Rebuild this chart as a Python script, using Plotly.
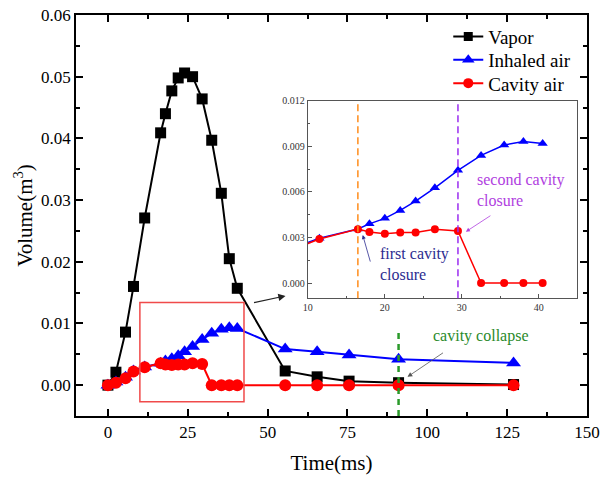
import plotly.graph_objects as go

# ---- data ----
time_ms = [0, 2.5, 5.5, 8, 11.5, 16.5, 18, 20, 22, 24, 26.5, 29.5, 32.5, 35.5, 38, 40.5,
           55.5, 65.5, 75.5, 91, 127]
vapor = [0, 0.0021, 0.0086, 0.0160, 0.0271, 0.0409, 0.0440, 0.0477, 0.0498, 0.0506, 0.0500,
         0.0464, 0.0397, 0.0311, 0.0205, 0.0157, 0.0023, 0.00135, 0.00065, 0.0004, 0.0001]
inhaled_air = [0, 0.0005, 0.0013, 0.0023, 0.00295, 0.00356, 0.0039, 0.00426, 0.00478, 0.0054,
               0.00627, 0.00742, 0.0084, 0.00908, 0.00932, 0.00919, 0.00585, 0.0054, 0.0049,
               0.0042, 0.0036]
cavity_air = [0, 0.0004, 0.0011, 0.0022, 0.0029, 0.00355, 0.00336, 0.00325, 0.00333, 0.00333,
              0.00355, 0.00343, 0, 0, 0, 0, 0, 0, 0, 0, 0]

series_names = ["Vapor", "Inhaled air", "Cavity air"]

# inset shows the samples from 8 ms to 40.5 ms
inset_t_span = [8, 40.5]

# reference lines / zoom window
first_closure_t = 16.5
second_closure_t = 29.5
collapse_t = 91
zoom_box_x = [10, 42.6]
zoom_box_y = [-0.0027, 0.0134]

main_x_range = [-10, 150]
main_y_range = [-0.005, 0.06]
inset_x_range = [10, 45]
inset_y_range = [-0.001, 0.012]

FONT = "Liberation Serif, Times New Roman, DejaVu Serif, serif"

inset_idx = [i for i, t in enumerate(time_ms) if inset_t_span[0] <= t <= inset_t_span[1]]
inset_t = [time_ms[i] for i in inset_idx]
inset_inhaled = [inhaled_air[i] for i in inset_idx]
inset_cavity = [cavity_air[i] for i in inset_idx]

fig = go.Figure()

# ---- main traces ----
fig.add_trace(go.Scatter(x=time_ms, y=vapor, name=series_names[0], mode="lines+markers",
                         showlegend=False, line=dict(color="black", width=2),
                         marker=dict(symbol="square", size=11, color="black")))
fig.add_trace(go.Scatter(x=time_ms, y=inhaled_air, name=series_names[1], mode="lines+markers",
                         showlegend=False, line=dict(color="#0000ff", width=2),
                         marker=dict(symbol="triangle-up", size=13, color="#0000ff")))
fig.add_trace(go.Scatter(x=time_ms, y=cavity_air, name=series_names[2], mode="lines+markers",
                         showlegend=False, line=dict(color="#ff0000", width=2),
                         marker=dict(symbol="circle", size=12, color="#ff0000")))

# legend entries, one small legend per row (reference rows are tightly spaced)
legend_ids = ["legend", "legend2", "legend3"]
for name, col, sym, sz, lid in zip(series_names, ["black", "#0000ff", "#ff0000"],
                                   ["square", "triangle-up", "circle"], [9, 11, 10], legend_ids):
    fig.add_trace(go.Scatter(x=[None], y=[None], name=name, mode="lines+markers",
                             legend=lid, line=dict(color=col, width=2),
                             marker=dict(symbol=sym, size=sz, color=col)))

# ---- inset traces ----
fig.add_trace(go.Scatter(x=inset_t, y=inset_inhaled, mode="lines+markers", showlegend=False,
                         xaxis="x2", yaxis="y2",
                         line=dict(color="#0000ff", width=1.5),
                         marker=dict(symbol="triangle-up", size=9, color="#0000ff")))
fig.add_trace(go.Scatter(x=inset_t, y=inset_cavity, mode="lines+markers", showlegend=False,
                         xaxis="x2", yaxis="y2",
                         line=dict(color="#ff0000", width=1.5),
                         marker=dict(symbol="circle", size=8, color="#ff0000")))

main_axis_common = dict(showline=True, linecolor="black", linewidth=1.5, mirror="ticks",
                        ticks="inside", ticklen=7, tickwidth=1.5, tickcolor="black",
                        showgrid=False, zeroline=False, automargin=False,
                        tickfont=dict(family=FONT, size=17, color="black"))

inset_axis_common = dict(showline=True, linecolor="#555", linewidth=1, mirror=True,
                         ticks="inside", ticklen=4, tickwidth=1, tickcolor="#555",
                         showgrid=False, zeroline=False, automargin=False,
                         tickfont=dict(family=FONT, size=10, color="#333"))

legend_common = dict(x=0.7285, xanchor="left", yanchor="middle", bgcolor="rgba(0,0,0,0)",
                     font=dict(family=FONT, size=19, color="black"))

fig.update_layout(
    width=601, height=479,
    margin=dict(l=76, r=14, t=15, b=63, autoexpand=False),
    plot_bgcolor="white", paper_bgcolor="white",
    font=dict(family=FONT, color="black"),
    xaxis=dict(range=main_x_range, dtick=25, tick0=0,
               minor=dict(dtick=12.5, ticks="inside", ticklen=4, tickcolor="black"),
               title=dict(text="Time(ms)", font=dict(family=FONT, size=21), standoff=14),
               **main_axis_common),
    yaxis=dict(range=main_y_range, dtick=0.01, tick0=0, tickformat=".2f",
               minor=dict(dtick=0.005, ticks="inside", ticklen=4, tickcolor="black"),
               title=dict(text="Volume(m<sup>3</sup>)", font=dict(family=FONT, size=21), standoff=3),
               **main_axis_common),
    xaxis2=dict(domain=[0.4537, 0.981], anchor="y2", range=inset_x_range, dtick=10, tick0=10,
                minor=dict(dtick=5, ticks="inside", ticklen=2, tickcolor="#555"),
                **inset_axis_common),
    yaxis2=dict(domain=[0.2935, 0.7863], anchor="x2", range=inset_y_range, dtick=0.003, tick0=0,
                tickformat=".3f",
                minor=dict(dtick=0.0015, ticks="inside", ticklen=2, tickcolor="#555"),
                **inset_axis_common),
    legend=dict(y=0.9459, **legend_common),
    legend2=dict(y=0.8878, **legend_common),
    legend3=dict(y=0.8297, **legend_common),
    showlegend=True,
)

# ---- shapes ----
fig.add_shape(type="rect", xref="x", yref="y", x0=zoom_box_x[0], x1=zoom_box_x[1],
              y0=zoom_box_y[0], y1=zoom_box_y[1], line=dict(color="#f04a4a", width=1.5))
fig.add_shape(type="line", xref="x", yref="y", x0=collapse_t, x1=collapse_t,
              y0=main_y_range[0], y1=0.0085,
              line=dict(color="#2a9a2a", width=2.5, dash="6px,5px"))
fig.add_shape(type="line", xref="x2", yref="y2 domain", x0=first_closure_t, x1=first_closure_t,
              y0=0, y1=1, line=dict(color="#ff8c1a", width=1.5, dash="7px,4px"))
fig.add_shape(type="line", xref="x2", yref="y2 domain", x0=second_closure_t, x1=second_closure_t,
              y0=0, y1=1, line=dict(color="#9a2cf0", width=1.5, dash="7px,4px"))

# ---- annotations ----
fig.add_annotation(x=55.6, y=0.01447, xref="x", yref="y", text="", showarrow=True,
                   ax=-33, ay=7, arrowhead=2, arrowsize=1.2, arrowwidth=1.2, arrowcolor="#222")
fig.add_annotation(x=116.9, y=0.0080, xref="x", yref="y", text="cavity collapse",
                   showarrow=False, font=dict(family=FONT, size=16, color="#2a8a2a"))
fig.add_annotation(x=93.8, y=0.00135, xref="x", yref="y", text="", showarrow=True,
                   ax=37, ay=-25, arrowhead=2, arrowsize=1.2, arrowwidth=0.8, arrowcolor="#555")
fig.add_annotation(x=19.07, y=0.00127, xref="x2", yref="y2", text="first cavity<br>closure",
                   showarrow=False, xanchor="left", align="left",
                   font=dict(family=FONT, size=16, color="#2c2c90"))
fig.add_annotation(x=17.13, y=0.00316, xref="x2", yref="y2", text="", showarrow=True,
                   ax=8, ay=28, arrowhead=2, arrowsize=1, arrowwidth=0.8, arrowcolor="#2c2c90")
fig.add_annotation(x=31.74, y=0.00612, xref="x2", yref="y2", text="second cavity<br>closure",
                   showarrow=False, xanchor="left", align="left",
                   font=dict(family=FONT, size=16, color="#b040e0"))
fig.add_annotation(x=30.53, y=0.00338, xref="x2", yref="y2", text="", showarrow=True,
                   ax=26, ay=-17, arrowhead=2, arrowsize=1, arrowwidth=0.8, arrowcolor="#b040e0")

# remove the page's default body margin so the figure sits at the window's corner
fig.write_html("out.html", config={"displayModeBar": False},
               post_script="document.body.style.margin='0px';")
